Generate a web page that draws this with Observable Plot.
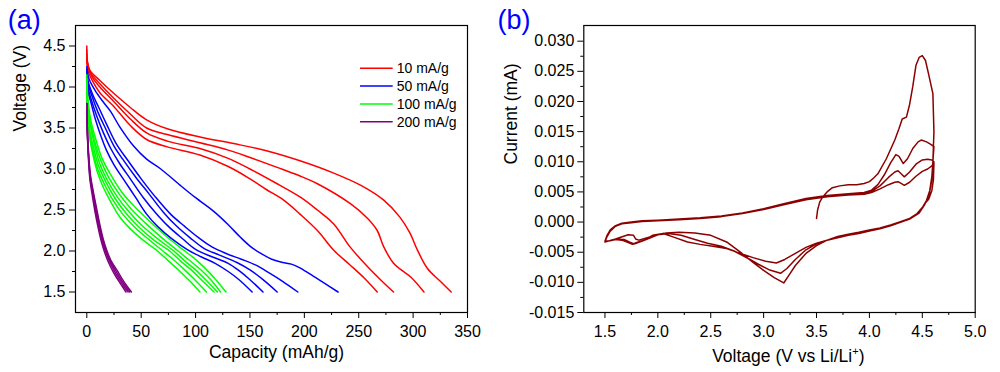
<!DOCTYPE html>
<html><head><meta charset="utf-8">
<script src="https://cdn.jsdelivr.net/npm/d3@7"></script>
<script src="https://cdn.jsdelivr.net/npm/@observablehq/plot@0.6"></script>
<style>
html,body{margin:0;padding:0;background:#fff;}
#wrap{display:flex;width:1000px;height:372px;overflow:hidden;}
#wrap svg{overflow:visible;display:block;}
</style></head><body><div id="wrap"></div>
<script>
// ---------- Panel (a) data: discharge curves [capacity mAh/g, voltage V] ----------
const rates = ["10 mA/g", "50 mA/g", "100 mA/g", "200 mA/g"];
const rateColors = ["#ff0000", "#0000ff", "#00ff00", "#800080"];

const red1 = [[0,4.35],[1,4.2],[5,4.08],[12,3.93],[25,3.76],[40,3.53],[55,3.36],[74,3.27],[104,3.17],[130,3.03],[150,2.88],[165,2.75],[181,2.62],[196,2.45],[212,2.25],[227,2.01],[242,1.83],[255,1.67],[267,1.5]];
const red2 = [[0,4.4],[1,4.25],[5,4.12],[12,4.0],[25,3.82],[40,3.61],[55,3.44],[74,3.34],[104,3.25],[130,3.13],[150,3.0],[175,2.82],[196,2.66],[212,2.5],[227,2.33],[242,2.05],[258,1.81],[270,1.65],[282,1.5]];
const red3 = [[0,4.45],[0.5,4.3],[3,4.18],[12,4.04],[25,3.86],[40,3.67],[55,3.5],[74,3.42],[104,3.32],[130,3.23],[150,3.14],[175,3.02],[195,2.92],[212,2.82],[242,2.58],[258,2.4],[267,2.25],[273,2.05],[282,1.85],[290,1.76],[298,1.68],[310,1.5]];
const red4 = [[0,4.5],[0.5,4.32],[3,4.2],[12,4.08],[25,3.92],[40,3.75],[55,3.6],[74,3.49],[104,3.39],[135,3.31],[166,3.22],[196,3.1],[227,2.95],[252,2.8],[273,2.62],[288,2.41],[297,2.22],[304,2.01],[313,1.79],[325,1.63],[335,1.5]];

const blue1 = [[0,4.1],[1,3.95],[4,3.8],[8,3.6],[13,3.4],[18,3.23],[25,3.05],[35,2.85],[45,2.65],[55,2.45],[65,2.3],[78,2.15],[92,2.02],[105,1.93],[118,1.85],[130,1.75],[140,1.65],[152,1.5]];
const blue2 = [[0,4.15],[1,4.0],[4,3.85],[9,3.65],[15,3.45],[22,3.25],[30,3.07],[40,2.88],[52,2.65],[63,2.47],[75,2.3],[88,2.15],[100,2.02],[115,1.93],[130,1.85],[140,1.76],[150,1.65],[162,1.5]];
const blue3 = [[0,4.2],[1,4.05],[5,3.88],[10,3.7],[17,3.5],[25,3.28],[33,3.12],[45,2.9],[57,2.7],[70,2.48],[82,2.31],[95,2.16],[108,2.03],[122,1.95],[138,1.86],[150,1.77],[162,1.65],[175,1.5]];
const blue4 = [[0,4.22],[1,4.08],[5,3.92],[11,3.75],[18,3.55],[27,3.31],[38,3.1],[50,2.88],[63,2.66],[77,2.45],[90,2.3],[103,2.16],[115,2.05],[128,1.97],[142,1.9],[155,1.83],[168,1.73],[180,1.63],[194,1.5]];
const blue5 = [[0,4.25],[2,4.1],[8,3.95],[15,3.82],[22,3.7],[30,3.52],[43,3.28],[55,3.12],[68,3.0],[86,2.8],[100,2.65],[117,2.48],[130,2.32],[141,2.17],[150,2.06],[160,1.97],[170,1.9],[180,1.86],[188,1.84],[195,1.8],[205,1.72],[218,1.61],[231,1.5]];

const green1 = [[0,3.9],[1,3.6],[3,3.35],[6,3.15],[10,2.95],[15,2.78],[22,2.6],[30,2.42],[40,2.27],[52,2.13],[65,2.0],[75,1.88],[85,1.76],[95,1.63],[104,1.5]];
const green2 = [[0,3.95],[1,3.65],[3,3.4],[6,3.2],[10,3.0],[16,2.82],[24,2.62],[33,2.45],[44,2.29],[57,2.14],[70,2.0],[80,1.89],[90,1.77],[100,1.64],[110,1.5]];
const green3 = [[0,4.0],[1,3.7],[3,3.45],[7,3.22],[11,3.03],[18,2.83],[26,2.64],[36,2.46],[48,2.29],[62,2.13],[76,2.0],[86,1.88],[96,1.77],[106,1.64],[117,1.5]];
const green4 = [[0,4.05],[1,3.75],[4,3.48],[8,3.25],[12,3.06],[19,2.86],[28,2.66],[38,2.49],[50,2.32],[65,2.15],[80,2.0],[90,1.88],[100,1.77],[110,1.64],[120,1.5]];
const green5 = [[0,4.1],[1,3.8],[4,3.52],[8,3.3],[13,3.1],[20,2.9],[30,2.69],[41,2.51],[54,2.34],[69,2.16],[84,2.0],[94,1.89],[104,1.78],[114,1.65],[123,1.5]];
const green6 = [[0,4.15],[1,3.85],[4,3.57],[9,3.33],[14,3.13],[22,2.93],[32,2.72],[44,2.54],[58,2.36],[73,2.18],[88,2.02],[98,1.92],[108,1.8],[118,1.66],[128,1.5]];

const purple1 = [[0,3.78],[0.3,3.52],[0.8,3.32],[1.6,3.1],[2.8,2.88],[5,2.68],[7.5,2.48],[10.5,2.28],[13.5,2.11],[16.5,1.98],[20,1.86],[24.5,1.74],[28.5,1.65],[32.5,1.57],[36,1.5]];
const purple2 = [[0,3.8],[0.3,3.55],[0.8,3.35],[1.7,3.12],[3,2.9],[5.5,2.7],[8,2.5],[11,2.3],[14,2.13],[17,2.0],[21,1.87],[26,1.74],[30,1.65],[34,1.57],[38,1.5]];
const purple3 = [[0,3.8],[0.3,3.56],[0.8,3.36],[1.8,3.13],[3.2,2.91],[5.8,2.71],[8.5,2.51],[11.5,2.31],[14.5,2.14],[17.5,2.01],[21.5,1.88],[27,1.75],[31,1.66],[35.5,1.57],[39.5,1.5]];
const purple4 = [[0,3.8],[0.3,3.57],[0.9,3.37],[1.9,3.14],[3.4,2.92],[6,2.72],[9,2.52],[12,2.32],[15,2.15],[18,2.02],[22,1.89],[28,1.76],[32,1.67],[37,1.57],[41,1.5]];

const groups = [[red1,red2,red3,red4],[blue1,blue2,blue3,blue4,blue5],[green1,green2,green3,green4,green5,green6],[purple1,purple2,purple3,purple4]];

const capTicks = [0,50,100,150,200,250,300,350];
const capMinor = [25,75,125,175,225,275,325];
const voltTicks = [1.5,2.0,2.5,3.0,3.5,4.0,4.5];
const voltMinor = [1.75,2.25,2.75,3.25,3.75,4.25];

// ---------- Panel (b) data: cyclic voltammogram [voltage V, current mA] in scan order ----------
const anodic1 = [[3.50,0.0006],[3.51,0.0020],[3.53,0.0033],[3.56,0.0042],[3.60,0.0050],[3.65,0.0057],[3.72,0.0060],[3.80,0.0062],[3.88,0.0062],[3.95,0.0064],[4.00,0.0067],[4.04,0.0073],[4.08,0.0080],[4.16,0.0105],[4.24,0.0136],[4.28,0.0155],[4.31,0.0171],[4.35,0.0174],[4.38,0.0195],[4.41,0.0225],[4.44,0.0260],[4.47,0.0273],[4.50,0.0276],[4.53,0.0268],[4.56,0.0245],[4.60,0.0213]];
const cathodic1 = [[4.61,0.0150],[4.60,0.0100],[4.59,0.0070],[4.57,0.0050],[4.54,0.0035],[4.50,0.0023],[4.45,0.0013],[4.38,0.0006],[4.30,0.0001],[4.20,-0.0005],[4.10,-0.0010],[4.00,-0.0013],[3.90,-0.0017],[3.80,-0.0020],[3.70,-0.0024],[3.60,-0.0030],[3.50,-0.0039],[3.40,-0.0052],[3.30,-0.0072],[3.24,-0.0088],[3.19,-0.0101],[3.10,-0.0092],[3.00,-0.0080],[2.90,-0.0067],[2.78,-0.0050],[2.65,-0.0033],[2.50,-0.0022],[2.35,-0.0018],[2.20,-0.0017],[2.08,-0.0018],[2.00,-0.0021],[1.93,-0.0026],[1.86,-0.0031],[1.80,-0.0035],[1.76,-0.0037],[1.72,-0.0034],[1.66,-0.0030],[1.60,-0.0029],[1.55,-0.0031],[1.50,-0.0032]];
const anodic2 = [[1.50,-0.0032],[1.52,-0.0022],[1.55,-0.0013],[1.60,-0.0006],[1.66,-0.0002],[1.75,0.0000],[1.85,0.0002],[2.00,0.0003],[2.20,0.0005],[2.40,0.0007],[2.60,0.0010],[2.80,0.0015],[3.00,0.0022],[3.20,0.0031],[3.40,0.0039],[3.60,0.0044],[3.80,0.0047],[3.95,0.0049],[4.02,0.0053],[4.08,0.0062],[4.14,0.0078],[4.20,0.0098],[4.25,0.0112],[4.28,0.0109],[4.32,0.0097],[4.36,0.0105],[4.41,0.0122],[4.46,0.0133],[4.49,0.0136],[4.54,0.0133],[4.58,0.0129],[4.61,0.0125]];
const cathodic2 = [[4.60,0.0100],[4.59,0.0075],[4.57,0.0052],[4.55,0.0040],[4.52,0.0028],[4.47,0.0015],[4.38,0.0005],[4.30,0.0000],[4.20,-0.0006],[4.10,-0.0011],[4.00,-0.0014],[3.90,-0.0018],[3.80,-0.0021],[3.70,-0.0025],[3.60,-0.0030],[3.50,-0.0036],[3.40,-0.0046],[3.30,-0.0062],[3.22,-0.0077],[3.16,-0.0085],[3.05,-0.0079],[2.95,-0.0070],[2.85,-0.0060],[2.72,-0.0048],[2.60,-0.0040],[2.47,-0.0035],[2.35,-0.0029],[2.22,-0.0022],[2.10,-0.0019],[2.00,-0.0021],[1.90,-0.0026],[1.82,-0.0030],[1.79,-0.0028],[1.77,-0.0022],[1.72,-0.0021],[1.67,-0.0024],[1.60,-0.0028],[1.50,-0.0033]];
const anodic3 = [[1.50,-0.0033],[1.52,-0.0023],[1.55,-0.0014],[1.60,-0.0007],[1.66,-0.0002],[1.75,0.0000],[1.85,0.0002],[2.00,0.0003],[2.20,0.0005],[2.40,0.0007],[2.60,0.0010],[2.80,0.0015],[3.00,0.0022],[3.20,0.0030],[3.40,0.0038],[3.60,0.0043],[3.80,0.0046],[3.95,0.0048],[4.02,0.0051],[4.10,0.0060],[4.18,0.0074],[4.24,0.0083],[4.27,0.0085],[4.30,0.0080],[4.33,0.0075],[4.38,0.0083],[4.44,0.0096],[4.50,0.0103],[4.55,0.0104],[4.59,0.0103],[4.61,0.0100]];
const cathodic3 = [[4.59,0.0075],[4.57,0.0052],[4.54,0.0036],[4.50,0.0024],[4.45,0.0014],[4.37,0.0005],[4.30,0.0000],[4.20,-0.0006],[4.10,-0.0011],[4.00,-0.0015],[3.90,-0.0019],[3.80,-0.0022],[3.70,-0.0026],[3.60,-0.0030],[3.50,-0.0035],[3.40,-0.0042],[3.30,-0.0052],[3.20,-0.0062],[3.12,-0.0068],[3.02,-0.0065],[2.90,-0.0059],[2.78,-0.0052],[2.65,-0.0044],[2.52,-0.0040],[2.40,-0.0037],[2.28,-0.0033],[2.15,-0.0025],[2.05,-0.0019],[1.95,-0.0022],[1.87,-0.0030],[1.80,-0.0034],[1.77,-0.0036],[1.73,-0.0033],[1.68,-0.0029],[1.60,-0.0028],[1.50,-0.0033]];
const anodic4 = [[1.50,-0.0033],[1.52,-0.0024],[1.55,-0.0015],[1.60,-0.0007],[1.66,-0.0003],[1.75,-0.0001],[1.85,0.0001],[2.00,0.0002],[2.20,0.0004],[2.40,0.0006],[2.60,0.0009],[2.80,0.0014],[3.00,0.0021],[3.20,0.0029],[3.40,0.0037],[3.60,0.0042],[3.80,0.0045],[3.95,0.0046],[4.02,0.0049],[4.10,0.0055],[4.18,0.0062],[4.24,0.0066],[4.27,0.0067],[4.30,0.0064],[4.33,0.0061],[4.38,0.0066],[4.44,0.0076],[4.50,0.0084],[4.55,0.0088],[4.59,0.0093],[4.61,0.0098],[4.605,0.0070],[4.59,0.0052],[4.56,0.0038],[4.52,0.0030]];
const scans = [anodic1, cathodic1, anodic2, cathodic2, anodic3, cathodic3, anodic4];

const cvXTicks = [1.5,2.0,2.5,3.0,3.5,4.0,4.5,5.0];
const cvXMinor = [1.75,2.25,2.75,3.25,3.75,4.25,4.75];
const cvYTicks = [-0.015,-0.010,-0.005,0.000,0.005,0.010,0.015,0.020,0.025,0.030];
const cvYMinor = [-0.0125,-0.0075,-0.0025,0.0025,0.0075,0.0125,0.0175,0.0225,0.0275];

// ---------- build ----------
const FONT = "'Liberation Sans', Arial, Helvetica, sans-serif";
const rowsA = [];
groups.forEach((g, gi) => g.forEach((curve, ci) => curve.forEach(([c, v]) => rowsA.push({cap: c, v, rate: rates[gi], id: gi + "-" + ci}))));
const rowsB = [];
scans.forEach(s => s.forEach(([v, i]) => rowsB.push({v, i})));

const legendMark = () => {
  const g = d3.create("svg:g").attr("font-size", 14).attr("text-anchor", "start");
  rates.forEach((r, k) => {
    const y = 68.3 + k * 17.8;
    g.append("line").attr("x1", 360).attr("x2", 392.7).attr("y1", y).attr("y2", y)
      .attr("stroke", rateColors[k]).attr("stroke-width", 1.5);
    g.append("text").attr("x", 396.7).attr("y", y).attr("dy", "0.36em")
      .attr("text-anchor", "start").attr("fill", "#000").text(r);
  });
  return g.node();
};

const plotA = Plot.plot({
  width: 495, height: 372, marginLeft: 75, marginRight: 28, marginTop: 25, marginBottom: 60,
  style: {fontFamily: FONT, fontSize: "16px", background: "#fff", color: "#000", overflow: "visible"},
  x: {domain: [-10.4, 350], label: null},
  y: {domain: [1.25, 4.75], label: null},
  color: {domain: rates, range: rateColors},
  marks: [
    Plot.axisX({ticks: capTicks, tickSize: 6, tickPadding: 7, tickFormat: d => String(d), label: null}),
    Plot.axisX({ticks: capMinor, tickSize: 3, tickFormat: () => "", label: null}),
    Plot.axisY({ticks: voltTicks, tickSize: 6, tickPadding: 4, tickFormat: d => d.toFixed(1), label: null}),
    Plot.axisY({ticks: voltMinor, tickSize: 3, tickFormat: () => "", label: null}),
    Plot.line(rowsA, {x: "cap", y: "v", z: "id", stroke: "rate", strokeWidth: 1.5, curve: "catmull-rom"}),
    Plot.frame({stroke: "#000", strokeWidth: 1.2}),
    legendMark,
    Plot.text(["Capacity (mAh/g)"], {text: d => d, frameAnchor: "bottom", dx: 5, dy: 40, lineAnchor: "middle", fontSize: 17.5}),
    Plot.text(["Voltage (V)"], {text: d => d, frameAnchor: "left", dx: -55, dy: -37.5, rotate: -90, lineAnchor: "middle", fontSize: 17.5}),
    Plot.text(["(a)"], {text: d => d, frameAnchor: "top-left", textAnchor: "start", lineAnchor: "bottom", dx: -67.7, dy: 3, fontSize: 27, fill: "#0000ff"})
  ]
});

const plotB = Plot.plot({
  width: 505, height: 372, marginLeft: 88.3, marginRight: 25.3, marginTop: 25, marginBottom: 60,
  style: {fontFamily: FONT, fontSize: "16px", background: "#fff", color: "#000", overflow: "visible"},
  x: {domain: [1.3, 5.0], label: null},
  y: {domain: [-0.015, 0.0326], label: null},
  marks: [
    Plot.axisX({ticks: cvXTicks, tickSize: 6, tickPadding: 7, tickFormat: d => d.toFixed(1), label: null}),
    Plot.axisX({ticks: cvXMinor, tickSize: 3, tickFormat: () => "", label: null}),
    Plot.axisY({ticks: cvYTicks, tickSize: 6, tickPadding: 3.5, tickFormat: d => d.toFixed(3), label: null}),
    Plot.axisY({ticks: cvYMinor, tickSize: 3, tickFormat: () => "", label: null}),
    Plot.line(rowsB, {x: "v", y: "i", stroke: "#8b0000", strokeWidth: 1.5}),
    Plot.frame({stroke: "#000", strokeWidth: 1.2}),
    Plot.text(["Voltage (V vs Li/Li+)"], {text: d => d, frameAnchor: "bottom", dx: 8.8, dy: 43.5, lineAnchor: "middle", fontSize: 17.5}),
    Plot.text(["Current (mA)"], {text: d => d, frameAnchor: "left", dx: -72.6, dy: -4.5, rotate: -90, lineAnchor: "middle", fontSize: 17.5}),
    Plot.text(["(b)"], {text: d => d, frameAnchor: "top-left", textAnchor: "start", lineAnchor: "bottom", dx: -86.3, dy: 3, fontSize: 27, fill: "#0000ff"})
  ]
});

// superscript "+" in Li/Li+
const NS = "http://www.w3.org/2000/svg";
const t = [...plotB.querySelectorAll("text")].find(n => n.textContent === "Voltage (V vs Li/Li+)");
if (t) {
  t.textContent = "Voltage (V vs Li/Li";
  const sup = document.createElementNS(NS, "tspan");
  sup.setAttribute("dy", "-7"); sup.setAttribute("font-size", "11"); sup.textContent = "+";
  const close = document.createElementNS(NS, "tspan");
  close.setAttribute("dy", "7"); close.textContent = ")";
  t.appendChild(sup); t.appendChild(close);
}

const wrap = document.getElementById("wrap");
wrap.appendChild(plotA);
wrap.appendChild(plotB);
</script></body></html>
